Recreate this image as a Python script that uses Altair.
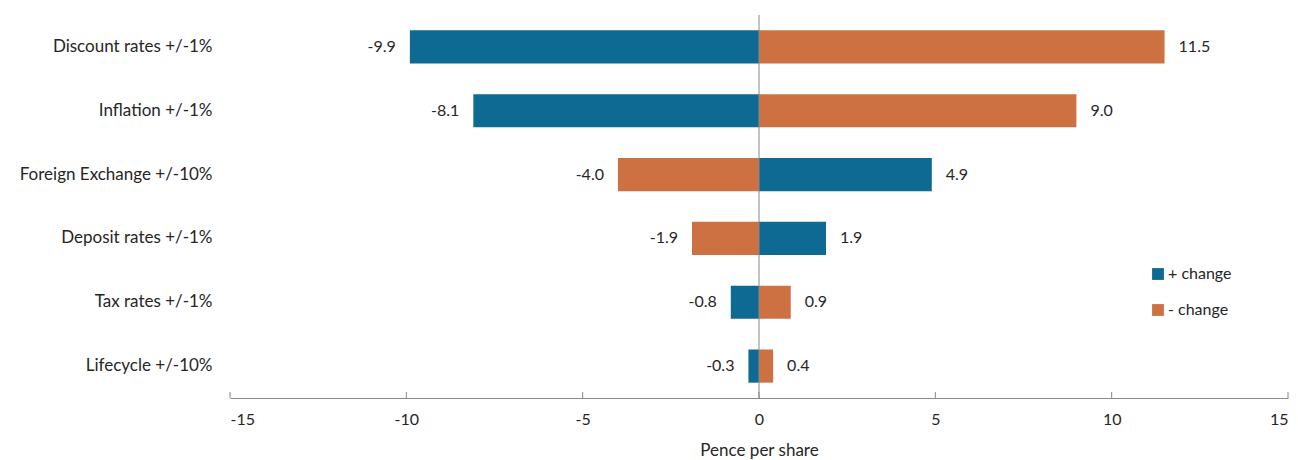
import altair as alt
import pandas as pd

# Sensitivity of value (pence per share) to key assumptions
categories = [
    "Discount rates +/-1%",
    "Inflation +/-1%",
    "Foreign Exchange +/-10%",
    "Deposit rates +/-1%",
    "Tax rates +/-1%",
    "Lifecycle +/-10%",
]
plus_change = [-9.9, -8.1, 4.9, 1.9, -0.8, -0.3]
minus_change = [11.5, 9.0, -4.0, -1.9, 0.9, 0.4]
series_names = ["+ change", "- change"]
x_ticks = [-15, -10, -5, 0, 5, 10, 15]

rows = []
for cat, p, m in zip(categories, plus_change, minus_change):
    rows.append({"factor": cat, "series": series_names[0], "value": p})
    rows.append({"factor": cat, "series": series_names[1], "value": m})
df = pd.DataFrame(rows)
df["label"] = df["value"].map(lambda v: f"{v:.1f}")

FONT = "Lato"
TEXT = "#262626"
BLUE = "#0e6a93"
ORANGE = "#cd7142"
AXIS_GREY = "#888888"
W, H = 1058, 383

x_scale = alt.Scale(domain=[-15, 15], nice=False, zero=False)
y_enc = alt.Y(
    "factor:N",
    sort=categories,
    scale=alt.Scale(paddingInner=0.48, paddingOuter=0.24),
    axis=alt.Axis(
        title=None, domain=False, ticks=False, labelPadding=18, labelLimit=300,
        labelFont=FONT, labelFontSize=17, labelColor=TEXT,
    ),
)

bars = alt.Chart(df).mark_bar().encode(
    x=alt.X(
        "value:Q",
        scale=x_scale,
        axis=alt.Axis(
            values=x_ticks, title="Pence per share", grid=False,
            labelExpr="'' + datum.value",
            domainColor=AXIS_GREY, ticks=False,
            labelFont=FONT, labelFontSize=16, labelColor=TEXT, labelPadding=13,
            titleFont=FONT, titleFontSize=17, titleFontWeight="normal",
            titleColor=TEXT, titlePadding=15,
        ),
    ),
    x2=alt.datum(0),
    y=y_enc,
    color=alt.Color(
        "series:N",
        scale=alt.Scale(domain=series_names, range=[BLUE, ORANGE]),
        legend=alt.Legend(
            title=None, orient="none", legendX=920, legendY=251,
            symbolType="square", symbolSize=140, symbolStrokeWidth=0,
            labelFont=FONT, labelFontSize=16, labelColor=TEXT,
            rowPadding=20, labelOffset=2,
        ),
    ),
)

neg_labels = alt.Chart(df).transform_filter("datum.value < 0").mark_text(
    align="right", dx=-14, font=FONT, fontSize=16, color=TEXT
).encode(x=alt.X("value:Q", scale=x_scale), y=alt.Y("factor:N", sort=categories), text="label:N")

pos_labels = alt.Chart(df).transform_filter("datum.value >= 0").mark_text(
    align="left", dx=14, font=FONT, fontSize=16, color=TEXT
).encode(x=alt.X("value:Q", scale=x_scale), y=alt.Y("factor:N", sort=categories), text="label:N")

zero_line = alt.Chart(pd.DataFrame({"z": [0]})).mark_rule(color=AXIS_GREY, strokeWidth=1).encode(
    x=alt.X("z:Q", scale=x_scale)
)

# Tick marks pointing up from the x axis line
tick_marks = alt.Chart(pd.DataFrame({"t": x_ticks})).mark_rule(color=AXIS_GREY, strokeWidth=1).encode(
    x=alt.X("t:Q", scale=x_scale), y=alt.value(H - 6), y2=alt.value(H)
)

chart = alt.layer(bars, zero_line, tick_marks, neg_labels, pos_labels).properties(
    width=W, height=H,
    autosize=alt.AutoSizeParams(type="none"),
    padding={"left": 230, "top": 15, "right": 10, "bottom": 62},
    background="white",
).configure_view(strokeWidth=0)

chart.save("out.html", embed_options={"renderer": "svg", "actions": False})
